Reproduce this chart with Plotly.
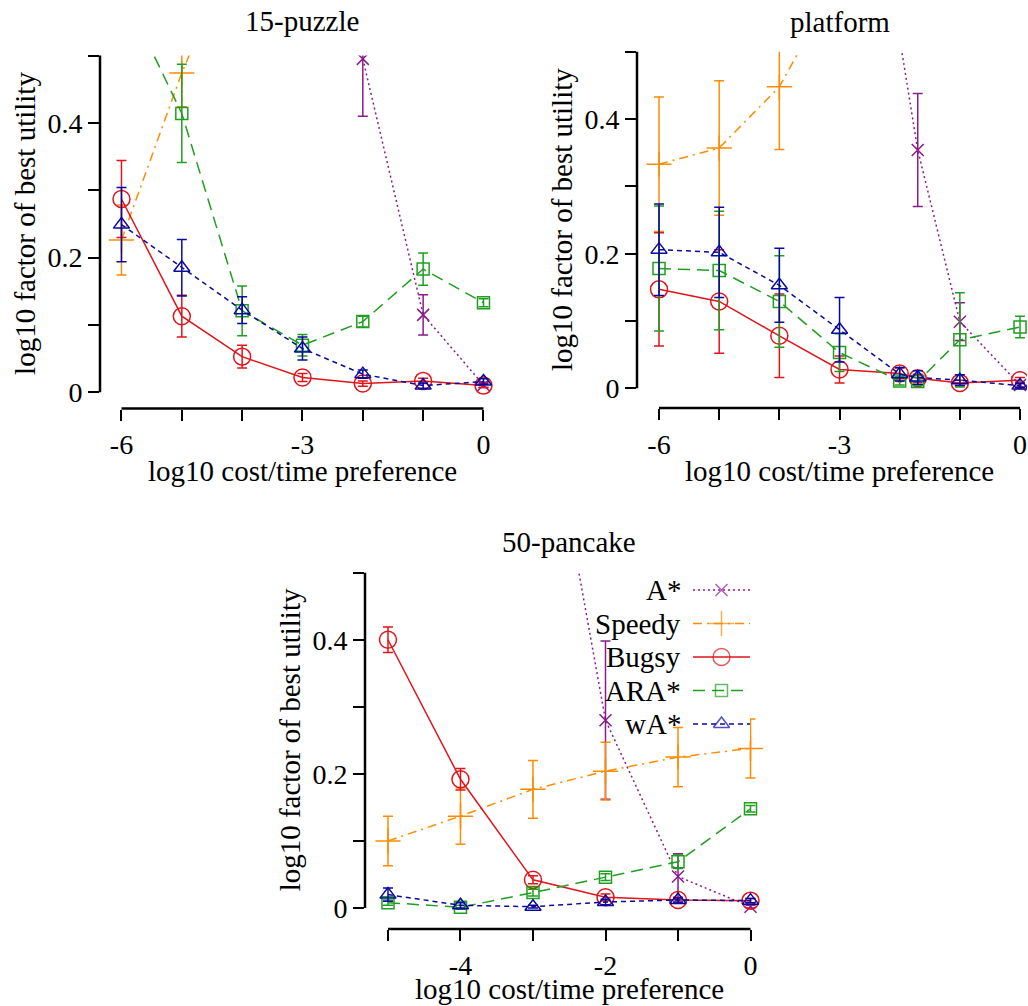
import plotly.graph_objects as go

# ---------------- data ----------------
SERIES = ["A*", "Speedy", "Bugsy", "ARA*", "wA*"]

X_PUZZLE = [-6, -5, -4, -3, -2, -1, 0]
PUZZLE_Y = {
    "A*":     [None, None, None, None, 0.495, 0.115, 0.011],
    "Speedy": [0.226, 0.474, 0.687, None, None, None, None],
    "Bugsy":  [0.287, 0.113, 0.053, 0.022, 0.013, 0.017, 0.010],
    "ARA*":   [0.600, 0.414, 0.121, 0.070, 0.105, 0.183, 0.133],
    "wA*":    [0.249, 0.185, 0.122, 0.065, 0.027, 0.010, 0.016],
}
PUZZLE_ERR = {
    "A*":     [0, 0, 0, 0, 0.085, 0.030, 0.004],
    "Speedy": [0.052, 0.050, 0.050, 0, 0, 0, 0],
    "Bugsy":  [0.057, 0.031, 0.017, 0.006, 0.004, 0.004, 0.003],
    "ARA*":   [0.080, 0.073, 0.037, 0.016, 0.008, 0.024, 0.006],
    "wA*":    [0.055, 0.042, 0.020, 0.017, 0.006, 0.004, 0.004],
}

X_PLATFORM = [-6, -5, -4, -3, -2, -1.7, -1, 0]
PLATFORM_Y = {
    "A*":     [None, None, None, None, 0.520, 0.354, 0.099, 0.005],
    "Speedy": [0.333, 0.357, 0.448, 0.610, None, None, None, None],
    "Bugsy":  [0.147, 0.129, 0.078, 0.028, 0.022, 0.015, 0.008, 0.012],
    "ARA*":   [0.178, 0.175, 0.129, 0.053, 0.011, 0.010, 0.072, 0.091],
    "wA*":    [0.206, 0.202, 0.153, 0.087, 0.021, 0.016, 0.012, 0.004],
}
PLATFORM_ERR = {
    "A*":     [0, 0, 0, 0, 0.015, 0.084, 0.028, 0.003],
    "Speedy": [0.100, 0.100, 0.093, 0.090, 0, 0, 0, 0],
    "Bugsy":  [0.084, 0.077, 0.062, 0.020, 0.008, 0.006, 0.004, 0.004],
    "ARA*":   [0.093, 0.088, 0.068, 0.028, 0.006, 0.006, 0.070, 0.016],
    "wA*":    [0.068, 0.067, 0.055, 0.048, 0.010, 0.010, 0.008, 0.003],
}

X_PANCAKE = [-5, -4, -3, -2, -1, 0]
PANCAKE_Y = {
    "A*":     [None, None, 0.880, 0.280, 0.047, 0.002],
    "Speedy": [0.100, 0.137, 0.177, 0.204, 0.225, 0.238],
    "Bugsy":  [0.400, 0.192, 0.042, 0.016, 0.012, 0.011],
    "ARA*":   [0.008, 0.001, 0.023, 0.046, 0.069, 0.148],
    "wA*":    [0.020, 0.004, 0.002, 0.009, 0.012, 0.011],
}
PANCAKE_ERR = {
    "A*":     [0, 0, 0.100, 0.118, 0.034, 0.002],
    "Speedy": [0.037, 0.042, 0.043, 0.043, 0.044, 0.044],
    "Bugsy":  [0.019, 0.016, 0.006, 0.005, 0.004, 0.003],
    "ARA*":   [0.004, 0.003, 0.005, 0.005, 0.010, 0.005],
    "wA*":    [0.010, 0.004, 0.002, 0.004, 0.003, 0.003],
}

TITLES = ["15-puzzle", "platform", "50-pancake"]
X_TITLE = "log10 cost/time preference"
Y_TITLE = "log10 factor of best utility"

X_TICKS_A = [-6, -5, -4, -3, -2, -1, 0]
X_TICKTEXT_A = ["-6", "", "", "-3", "", "", "0"]
X_TICKS_B = [-5, -4, -3, -2, -1, 0]
X_TICKTEXT_B = ["", "-4", "", "-2", "", "0"]
Y_TICKS = [0, 0.1, 0.2, 0.3, 0.4, 0.5]
Y_TICKTEXT = ["0", "", "0.2", "", "0.4", ""]

# ---------------- style ----------------
W, H = 1028, 1006
FONT = "Liberation Serif"
FS = 29      # titles / legend
FS_TICK = 28
STYLE = {
    "A*":     dict(color="#8b1a8b", dash="2px,3px", symbol="x-thin-open", size=12),
    "Speedy": dict(color="#ff8c00", dash="9px,5px,2px,5px", symbol="cross-thin-open", size=18),
    "Bugsy":  dict(color="#e0141a", dash="solid", symbol="circle-open", size=17),
    "ARA*":   dict(color="#1f9e1f", dash="12px,7px", symbol="square-open", size=12),
    "wA*":    dict(color="#0a0aa0", dash="5px,4px", symbol="triangle-up-open", size=14),
}

# panel geometry in pixels: x-domain, x-range, y-domain (top, bottom), y-range
PANELS = [
    dict(xd=(100, 502), xr=(-6.356, 0.307), yd=(55.5, 408.5), yr=(-0.0240, 0.5),
         xs=X_PUZZLE, ys=PUZZLE_Y, es=PUZZLE_ERR, tv=X_TICKS_A, tt=X_TICKTEXT_A,
         title_y=21, xt_y=471, yt_x=25),
    dict(xd=(637, 1027), xr=(-6.366, 0.116), yd=(51.8, 408.0), yr=(-0.0293, 0.5),
         xs=X_PLATFORM, ys=PLATFORM_Y, es=PLATFORM_ERR, tv=X_TICKS_A, tt=X_TICKTEXT_A,
         title_y=22, xt_y=471, yt_x=562),
    dict(xd=(365, 769), xr=(-5.317, 0.255), yd=(572.7, 929.0), yr=(-0.0313, 0.5),
         xs=X_PANCAKE, ys=PANCAKE_Y, es=PANCAKE_ERR, tv=X_TICKS_B, tt=X_TICKTEXT_B,
         title_y=542, xt_y=989, yt_x=290),
]

fig = go.Figure()
layout = dict(
    width=W, height=H, autosize=False,
    margin=dict(l=0, r=0, t=0, b=0),
    paper_bgcolor="white", plot_bgcolor="white",
    font=dict(family=FONT, size=FS, color="black"),
    showlegend=False,
)
shapes = []
annotations = []

for i, p in enumerate(PANELS):
    n = "" if i == 0 else str(i + 1)
    xa, ya = "x" + n, "y" + n
    for s in SERIES:
        st = STYLE[s]
        fig.add_trace(go.Scatter(
            x=p["xs"], y=p["ys"][s], xaxis=xa, yaxis=ya, mode="lines+markers",
            line=dict(color=st["color"], width=1.5, dash=st["dash"]),
            marker=dict(symbol=st["symbol"], size=st["size"], color=st["color"],
                        line=dict(color=st["color"], width=1.5)),
            error_y=dict(type="data", array=p["es"][s], visible=True,
                         color=st["color"], thickness=1.5, width=5),
            name=s, showlegend=False, hoverinfo="skip",
        ))
    x0, x1 = p["xr"]
    y0, y1 = p["yr"]
    layout["xaxis" + n] = dict(
        domain=[p["xd"][0] / W, p["xd"][1] / W], range=[x0, x1], anchor=ya,
        showgrid=False, zeroline=False, showline=False,
        ticks="outside", ticklen=11, tickwidth=2, tickcolor="black",
        tickmode="array", tickvals=p["tv"], ticktext=p["tt"],
        ticklabelstandoff=0,
        tickfont=dict(family=FONT, size=FS_TICK, color="black"), fixedrange=True,
    )
    layout["yaxis" + n] = dict(
        domain=[1 - p["yd"][1] / H, 1 - p["yd"][0] / H], range=[y0, y1], anchor=xa,
        showgrid=False, zeroline=False, showline=False,
        ticks="outside", ticklen=11, tickwidth=2, tickcolor="black",
        tickmode="array", tickvals=Y_TICKS, ticktext=Y_TICKTEXT,
        tickfont=dict(family=FONT, size=FS_TICK, color="black"), fixedrange=True,
    )
    # axis lines: x from first to last tick, y from 0 to top
    xt0 = (min(p["tv"]) - x0) / (x1 - x0)
    xt1 = (max(p["tv"]) - x0) / (x1 - x0)
    shapes.append(dict(type="line", xref=xa + " domain", yref=ya + " domain",
                       x0=xt0, x1=xt1, y0=0, y1=0, line=dict(color="black", width=2.5)))
    yb = (min(Y_TICKS) - y0) / (y1 - y0)
    shapes.append(dict(type="line", xref=xa + " domain", yref=ya + " domain",
                       x0=0, x1=0, y0=yb, y1=1, line=dict(color="black", width=2.5)))
    cx = p["xd"][0] + ((min(p["tv"]) + max(p["tv"])) / 2 - x0) / (x1 - x0) * (p["xd"][1] - p["xd"][0])
    annotations.append(dict(text=TITLES[i], xref="paper", yref="paper", x=cx / W, y=1 - p["title_y"] / H,
                            xanchor="center", yanchor="middle", showarrow=False,
                            font=dict(family=FONT, size=FS, color="black")))
    annotations.append(dict(text=X_TITLE, xref="paper", yref="paper", x=cx / W, y=1 - p["xt_y"] / H,
                            xanchor="center", yanchor="middle", showarrow=False,
                            font=dict(family=FONT, size=FS, color="black")))
    ycen = p["yd"][0] + (y1 - 0.25) / (y1 - y0) * (p["yd"][1] - p["yd"][0])
    annotations.append(dict(text=Y_TITLE, xref="paper", yref="paper", x=p["yt_x"] / W, y=1 - ycen / H,
                            xanchor="center", yanchor="middle", showarrow=False, textangle=-90,
                            font=dict(family=FONT, size=FS, color="black")))

# custom legend (text to the left of the key), inside the pancake panel
LEG_X = (693, 750)
LEG_Y = (573.3, 740.8)
for k, s in enumerate(SERIES):
    st = STYLE[s]
    fig.add_trace(go.Scatter(
        x=[0, 0.5, 1], y=[k, k, k], xaxis="x4", yaxis="y4", mode="lines+markers",
        line=dict(color=st["color"], width=1.5, dash=st["dash"]),
        marker=dict(symbol=st["symbol"], size=[0, st["size"], 0], color=st["color"],
                    line=dict(color=st["color"], width=1.5)),
        showlegend=False, hoverinfo="skip", cliponaxis=False,
    ))
    annotations.append(dict(text=s, xref="x4", yref="y4", x=0, y=k, xanchor="right",
                            yanchor="middle", xshift=-10, showarrow=False,
                            font=dict(family=FONT, size=FS, color="black")))
layout["xaxis4"] = dict(domain=[LEG_X[0] / W, LEG_X[1] / W], range=[0, 1], anchor="y4",
                        visible=False, fixedrange=True)
layout["yaxis4"] = dict(domain=[1 - LEG_Y[1] / H, 1 - LEG_Y[0] / H], range=[len(SERIES) - 0.5, -0.5],
                        anchor="x4", visible=False, fixedrange=True)

layout["shapes"] = shapes
layout["annotations"] = annotations
fig.update_layout(**layout)

fig.write_html("out.html", config={"displayModeBar": False},
               post_script="document.body.style.margin='0px';")
